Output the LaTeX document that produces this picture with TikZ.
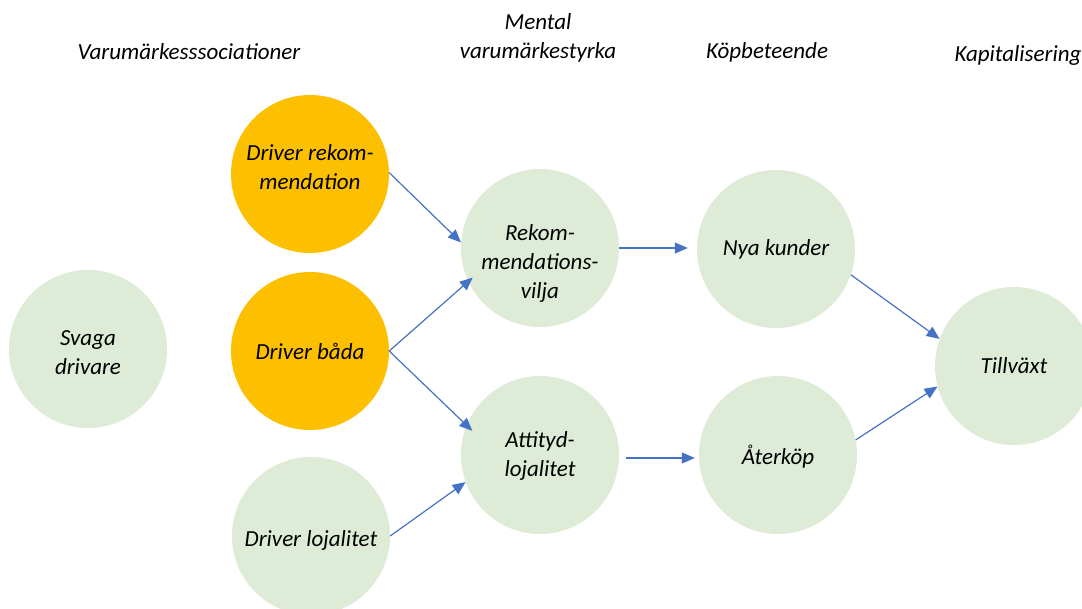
\documentclass[tikz,border=0pt]{standalone}
\usepackage{fontspec}
\setmainfont{Carlito}
\usetikzlibrary{arrows.meta}
\definecolor{cgreen}{RGB}{222,235,215}
\definecolor{corange}{RGB}{253,192,0}
\definecolor{cblue}{RGB}{68,114,196}
\begin{document}
\begin{tikzpicture}[x=1pt,y=-1pt,
  bub/.style={circle,minimum size=158pt,inner sep=0pt,fill=#1},
  txt/.style={font=\fontsize{23}{29}\selectfont\itshape,align=center,text=black},
  hdr/.style={font=\fontsize{23}{29}\selectfont\itshape,align=center,text=black},
  conn/.style={draw=cblue,line width=1.2pt,-{Triangle[length=13pt,width=11pt]}}]
\useasboundingbox (0,0) rectangle (1082,608);
\fill[white] (0,0) rectangle (1082,608);
% headers
\node[hdr] (h1) at (189,52) {Varumärkesssociationer};
\node[hdr] (h2) at (538,38) {Mental\\varumärkestyrka};
\node[hdr] (h3) at (767,52) {Köpbeteende};
\node[hdr,anchor=west] (h4) at (951,55) {Kapitalisering};
% circles
\node[bub=cgreen, label={[txt,yshift=-4pt]center:Svaga\\drivare}] (sv) at (88,349) {};
\node[bub=corange, label={[txt,yshift=7pt]center:Driver rekom-\\mendation}] (dr) at (310,174) {};
\node[bub=corange, label={[txt]center:Driver båda}] (db) at (310,351) {};
\node[bub=cgreen, label={[txt,yshift=-4pt]center:Driver lojalitet}] (dl) at (311,536) {};
\node[bub=cgreen, label={[txt,yshift=-15pt]center:Rekom-\\mendations-\\vilja}] (rk) at (540,248) {};
\node[bub=cgreen, label={[txt,yshift=-1pt]center:Attityd-\\lojalitet}] (at) at (540,455) {};
\node[bub=cgreen, label={[txt]center:Nya kunder}] (nk) at (776,249) {};
\node[bub=cgreen, label={[txt,yshift=-2pt]center:Återköp}] (ak) at (778,455) {};
\node[bub=cgreen, label={[txt]center:Tillväxt}] (tv) at (1014,366) {};
% connectors
\draw[conn] (dr.1) -- (rk.176);
\draw[conn,shorten >=-6pt] (db.east) -- (rk.205);
\draw[conn,shorten >=-8pt] (db.east) -- (at.158);
\draw[conn] (dl.east) -- (at.200);
\draw[conn,shorten >=9pt] (rk.east) -- ([yshift=1pt]nk.west);
\draw[conn,shorten <=7pt,shorten >=4pt] ([yshift=-3pt]at.east) -- ([yshift=-3pt]ak.west);
\draw[conn] (nk.-19) -- (tv.160);
\draw[conn] (ak.11) -- (tv.195);
\end{tikzpicture}
\end{document}
